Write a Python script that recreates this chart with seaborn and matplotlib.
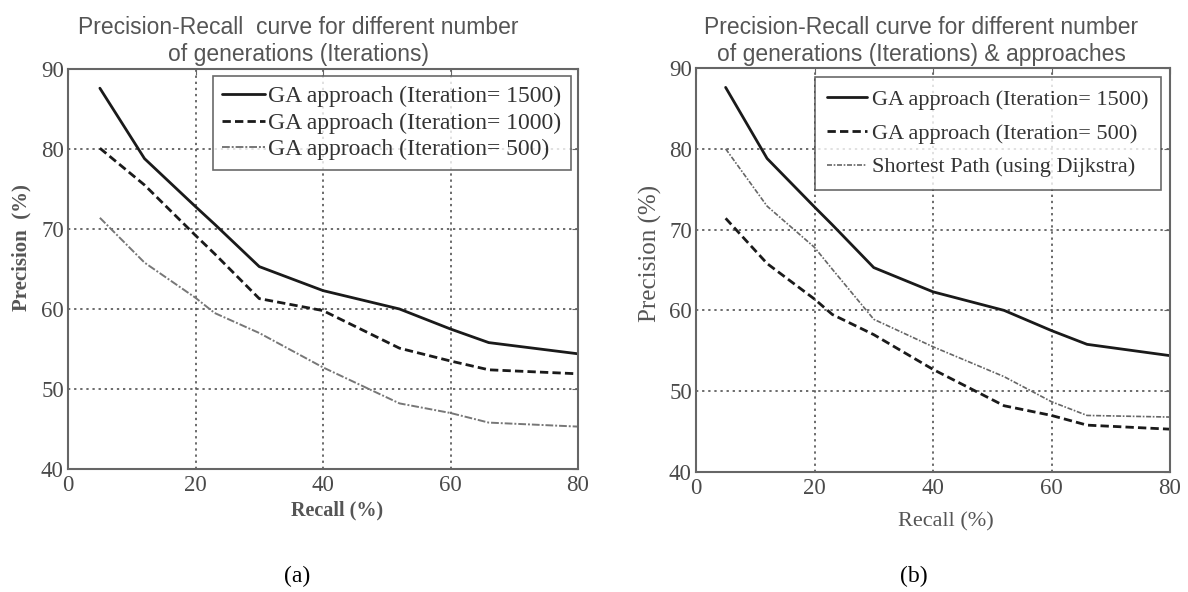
import matplotlib
matplotlib.use("Agg")
import matplotlib.pyplot as plt
import pandas as pd
import seaborn as sns

# values
recall = [5, 12, 20, 23, 30, 40, 52, 60, 66, 80]
ga_1500 = [87.6, 78.8, 72.8, 70.6, 65.3, 62.3, 60.0, 57.5, 55.8, 54.4]
ga_1000 = [80.1, 75.5, 69.2, 66.9, 61.3, 59.8, 55.1, 53.5, 52.4, 51.9]
ga_500 = [71.4, 65.8, 61.4, 59.5, 57.0, 52.7, 48.2, 47.0, 45.8, 45.3]
dijkstra = [80.0, 72.9, 67.8, 65.1, 58.9, 55.5, 51.8, 48.7, 47.0, 46.8]

x_ticks = [0, 20, 40, 60, 80]
y_ticks = [40, 50, 60, 70, 80, 90]

lab_1500 = "GA approach (Iteration= 1500)"
lab_1000 = "GA approach (Iteration= 1000)"
lab_500 = "GA approach (Iteration= 500)"
lab_dij = "Shortest Path (using Dijkstra)"

df = pd.DataFrame({"Recall": recall, "1500": ga_1500, "1000": ga_1000,
                   "500": ga_500, "dij": dijkstra})

sns.set_style("white")
plt.rcParams["font.family"] = ["Liberation Serif", "DejaVu Serif"]

fig = plt.figure(figsize=(11.88, 5.92), dpi=100)
W, H = 1188, 592


def frac(x0, y0, x1, y1):
    return [x0 / W, 1 - y1 / H, (x1 - x0) / W, (y1 - y0) / H]


def style_axes(ax):
    ax.set_xlim(0, 80)
    ax.set_ylim(40, 90)
    ax.set_xticks(x_ticks)
    ax.set_yticks(y_ticks)
    ax.grid(True, linestyle=(0, (1.5, 2.5)), color="#444444", linewidth=1.1)
    ax.tick_params(direction="in", length=4, color="#666666", labelsize=16.5,
                   labelcolor="#4a4a4a", pad=3, top=True, right=True)
    ax.tick_params(axis="x", pad=4)
    for s in ax.spines.values():
        s.set_color("#666666")
        s.set_linewidth(1.5)
    ax.set_xlabel("")
    ax.set_ylabel("")


def style_legend(leg):
    leg.get_frame().set_edgecolor("#444444")
    leg.get_frame().set_linewidth(1.2)
    for t in leg.get_texts():
        t.set_color("#333333")


# ---- (a) ----
ax1 = fig.add_axes(frac(68, 69, 578, 469))
sns.lineplot(data=df, x="Recall", y="1500", ax=ax1, color="#1a1a1a", lw=2.0, label=lab_1500)
sns.lineplot(data=df, x="Recall", y="1000", ax=ax1, color="#1a1a1a", lw=2.0,
             linestyle=(0, (3, 1.5)), label=lab_1000)
sns.lineplot(data=df, x="Recall", y="500", ax=ax1, color="#777777", lw=1.4,
             linestyle=(0, (4, 1, 1, 1)), label=lab_500)
style_axes(ax1)
leg1 = ax1.legend(loc="upper right", fontsize=17, frameon=True, fancybox=False,
                  handlelength=1.8, handletextpad=0.15, borderpad=0.4,
                  labelspacing=0.22, borderaxespad=0.3)
style_legend(leg1)

ax1.set_xlabel("Recall (%)", fontsize=14.5, fontweight="bold", color="#555555")
ax1.xaxis.set_label_coords((337 - 68) / 510, -0.078)
ax1.set_ylabel("Precision  (%)", fontsize=15, fontweight="bold", color="#555555")
ax1.yaxis.set_label_coords((31 - 68) / 510, (469 - 248) / 400)
fig.text(298 / W, 1 - 41 / H, "Precision-Recall  curve for different number\nof generations (Iterations)",
         ha="center", va="center", fontsize=16.5, color="#555555",
         family=["Liberation Sans", "DejaVu Sans"], linespacing=1.25)

# ---- (b) ----
ax2 = fig.add_axes(frac(696, 68, 1170, 472))
sns.lineplot(data=df, x="Recall", y="1500", ax=ax2, color="#1a1a1a", lw=2.0, label=lab_1500)
sns.lineplot(data=df, x="Recall", y="500", ax=ax2, color="#1a1a1a", lw=2.0,
             linestyle=(0, (3, 1.5)), label=lab_500)
sns.lineplot(data=df, x="Recall", y="dij", ax=ax2, color="#666666", lw=1.2,
             linestyle=(0, (3, 1, 1, 1)), label=lab_dij)
style_axes(ax2)
leg2 = ax2.legend(loc="upper right", fontsize=16, frameon=True, fancybox=False,
                  handlelength=1.8, handletextpad=0.25, borderpad=0.55,
                  labelspacing=0.6, borderaxespad=0.4)
style_legend(leg2)
ax2.set_xlabel("Recall (%)", fontsize=16, color="#555555")
ax2.xaxis.set_label_coords((946 - 696) / 474, -0.1)
ax2.set_ylabel("Precision (%)", fontsize=18, color="#555555")
ax2.yaxis.set_label_coords((662 - 696) / 474, (472 - 253) / 404)
fig.text(921 / W, 1 - 41 / H, "Precision-Recall curve for different number\nof generations (Iterations) & approaches",
         ha="center", va="center", fontsize=16.5, color="#555555",
         family=["Liberation Sans", "DejaVu Sans"], linespacing=1.25)

fig.text(297 / W, 1 - 576 / H, "(a)", ha="center", va="center", fontsize=17, color="black")
fig.text(914 / W, 1 - 576 / H, "(b)", ha="center", va="center", fontsize=17, color="black")

fig.savefig("out.png", dpi=100)
